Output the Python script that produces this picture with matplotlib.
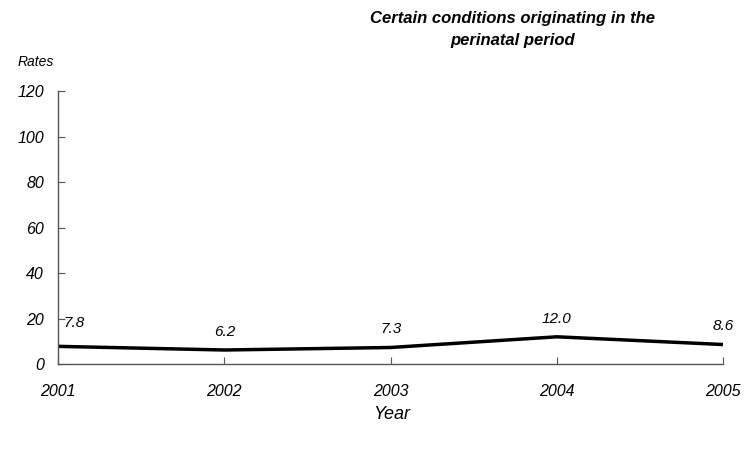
import matplotlib.pyplot as plt

plt.rcParams["font.family"] = ["Liberation Sans", "DejaVu Sans"]

years = [2001, 2002, 2003, 2004, 2005]
rates = [7.8, 6.2, 7.3, 12.0, 8.6]
labels = ["7.8", "6.2", "7.3", "12.0", "8.6"]
yticks = [0, 20, 40, 60, 80, 100, 120]

fig = plt.figure(figsize=(7.51, 4.54), dpi=100)
ax = fig.add_axes([0.0772, 0.198, 0.8858, 0.6016])

ax.plot(years, rates, color="black", linewidth=2.5, solid_joinstyle="miter")

for i, (x, y, t) in enumerate(zip(years, rates, labels)):
    if i == 0:
        ax.annotate(t, (x, y), xytext=(4, 12), textcoords="offset points",
                    ha="left", va="bottom", fontsize=11, style="italic")
    else:
        ax.annotate(t, (x, y), xytext=(0, 8), textcoords="offset points",
                    ha="center", va="bottom", fontsize=11, style="italic")

ax.set_xlim(2001, 2005)
ax.set_ylim(0, 120)
ax.set_xticks(years)
ax.set_yticks(yticks)
ax.set_xticklabels([str(y) for y in years])
ax.set_yticklabels([str(v) for v in yticks])
ax.tick_params(axis="x", direction="in", length=5, pad=14, color="#555555", labelsize=11.5)
ax.tick_params(axis="y", direction="in", length=5, pad=10, color="#555555", labelsize=11.5)
for lab in ax.get_xticklabels() + ax.get_yticklabels():
    lab.set_fontstyle("italic")

for s in ["top", "right"]:
    ax.spines[s].set_visible(False)
for s in ["left", "bottom"]:
    ax.spines[s].set_color("#555555")
    ax.spines[s].set_linewidth(1)

fig.text(0.0233, 0.863, "Rates", style="italic", fontsize=10, ha="left", va="center")
fig.text(0.522, 0.088, "Year", style="italic", fontsize=13, ha="center", va="center")
fig.text(0.682, 0.935, "Certain conditions originating in the\nperinatal period",
         style="italic", weight="bold", fontsize=12, ha="center", va="center",
         linespacing=1.55)

plt.savefig("out.png", dpi=100)
plt.close()
